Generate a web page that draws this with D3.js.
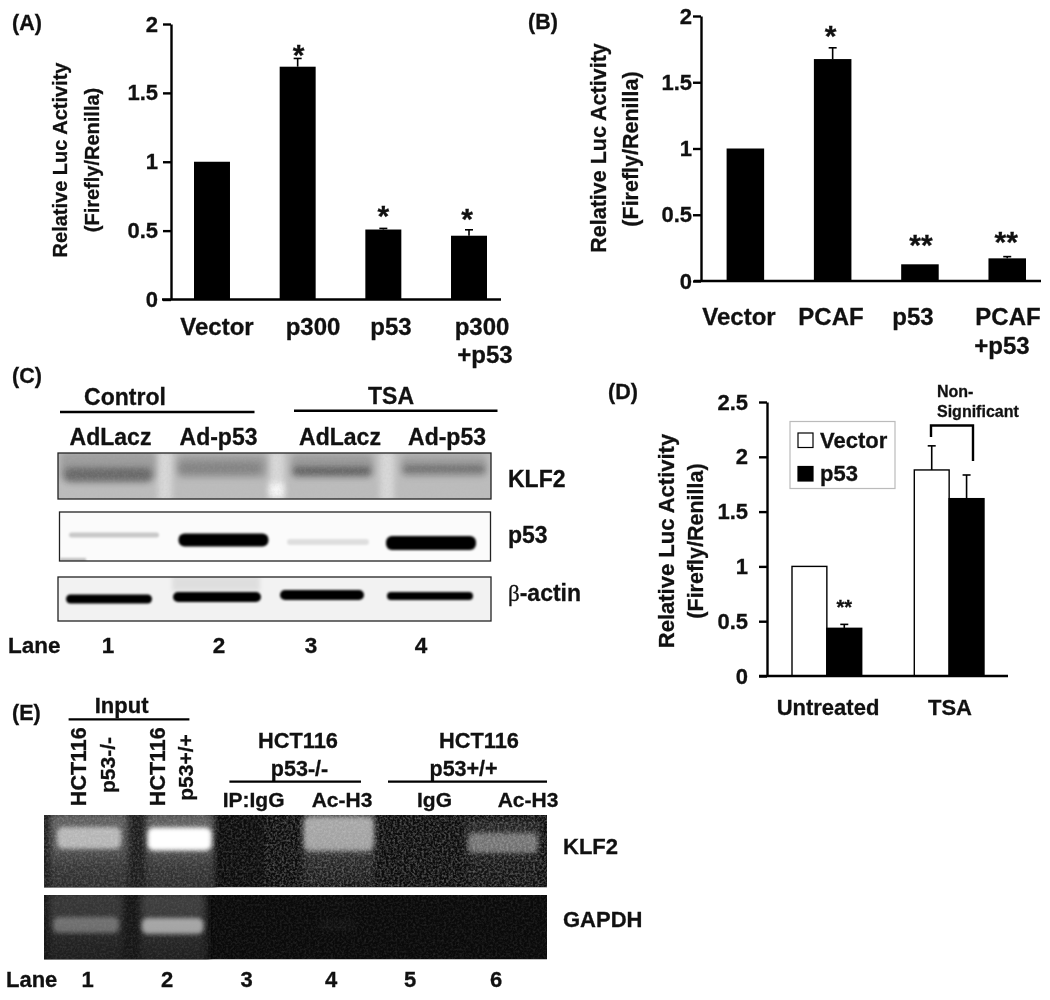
<!DOCTYPE html>
<html>
<head>
<meta charset="utf-8">
<script src="https://cdn.jsdelivr.net/npm/d3@7"></script>
<style>
  html, body { margin: 0; padding: 0; background: #fff; }
  svg { display: block; filter: blur(0.5px); }
  text { font-family: "Liberation Sans", Arial, sans-serif; font-weight: bold; fill: #111; stroke: #111; stroke-width: 0.3px; }
</style>
</head>
<body>
<div id="chart"></div>
<script>
// panel A
var catsA = ["Vector", "p300", "p53", "p300+p53"];
var valsA = [1, 1.69, 0.508, 0.463];
var errA = [1, 1.75, 0.516, 0.506];
var starsA = ["", "*", "*", "*"];
var ticksAB = [0, 0.5, 1, 1.5, 2];

// panel B
var catsB = ["Vector", "PCAF", "p53", "PCAF+p53"];
var valsB = [1, 1.675, 0.126, 0.171];
var errB = [1, 1.76, 0.126, 0.184];
var starsB = ["", "*", "**", "**"];

// panel D
var groupsD = ["Untreated", "TSA"];
var seriesD = ["Vector", "p53"];
var vectorD = [1, 1.88];
var p53D = [0.435, 1.618];
var vectorErrD = [1, 2.1];
var p53ErrD = [0.471, 1.834];
var ticksD = [0, 0.5, 1, 1.5, 2, 2.5];

// blots: how dark each lane looks (panel C), how bright (panel E)
var lanesC = [1, 2, 3, 4];
var klf2Smear = [0.22, 0.22, 0.24, 0.2];
var klf2Western = [0.42, 0.2, 0.5, 0.42];
var p53Western = [0.2, 1, 0.11, 1];
var actinWestern = [1, 1, 1, 1];
var lanesE = [1, 2, 3, 4, 5, 6];
var klf2GelSmear = [0.85, 0.85, 0, 0.8, 0, 0.3];
var klf2Gel = [0.56, 1, 0, 0.5, 0, 0.36];
var gapdhGelSmear = [0.42, 0.5, 0, 0.03, 0, 0];
var gapdhGel = [0.3, 0.56, 0, 0.02, 0, 0];

var svg = d3.select("#chart").append("svg")
    .attr("width", 1050)
    .attr("height", 1000);

var defs = svg.append("defs");
[1, 2, 3, 4, 6].forEach(function(s) {
    defs.append("filter")
        .attr("id", "blur" + s)
        .attr("x", "-50%").attr("y", "-150%")
        .attr("width", "200%").attr("height", "400%")
        .append("feGaussianBlur")
        .attr("stdDeviation", s);
});
var noise = defs.append("filter").attr("id", "speckle");
noise.append("feTurbulence")
    .attr("type", "fractalNoise")
    .attr("baseFrequency", 0.45)
    .attr("numOctaves", 2)
    .attr("seed", 4);
noise.append("feColorMatrix")
    .attr("type", "matrix")
    .attr("values", "0 0 0 0 0.45  0 0 0 0 0.45  0 0 0 0 0.45  1.6 0 0 0 -0.6");

var smearGrad = defs.append("linearGradient").attr("id", "smear")
    .attr("x1", 0).attr("x2", 0).attr("y1", 0).attr("y2", 1);
smearGrad.append("stop").attr("offset", "0%").attr("stop-color", "#fff").attr("stop-opacity", 0.36);
smearGrad.append("stop").attr("offset", "40%").attr("stop-color", "#fff").attr("stop-opacity", 0.3);
smearGrad.append("stop").attr("offset", "62%").attr("stop-color", "#fff").attr("stop-opacity", 0.15);
smearGrad.append("stop").attr("offset", "100%").attr("stop-color", "#fff").attr("stop-opacity", 0.06);

function label(g, str, x, y, size, anchor) {
    return g.append("text")
        .attr("x", x)
        .attr("y", y)
        .attr("font-size", size)
        .attr("text-anchor", anchor || "middle")
        .text(str);
}

function vlabel(g, str, x, cy, size) {
    return g.append("text")
        .attr("transform", "translate(" + x + "," + cy + ") rotate(-90)")
        .attr("font-size", size)
        .attr("text-anchor", "middle")
        .text(str);
}

function drawAxis(g, y, ticks, xAxis, tickPad, baseLeft, baseRight, fontSize) {
    var ax = g.append("g")
        .attr("transform", "translate(" + xAxis + ",0)")
        .call(d3.axisLeft(y).tickValues(ticks).tickSize(8).tickSizeOuter(0).tickPadding(tickPad)
            .tickFormat(function(d) { return d; }));
    ax.selectAll("path, line").attr("stroke", "#000").attr("stroke-width", 2.4);
    ax.selectAll("text").attr("font-size", fontSize).attr("font-family", null).attr("fill", "#111");
    g.append("line")
        .attr("x1", baseLeft)
        .attr("x2", baseRight)
        .attr("y1", y(0))
        .attr("y2", y(0))
        .attr("stroke", "#000")
        .attr("stroke-width", 2.4);
}

function errorBars(g, x, y, cats, vals, errs, capHalf) {
    cats.forEach(function(c, i) {
        if (errs[i] <= vals[i]) return;
        var cx = x(c) + x.bandwidth() / 2;
        g.append("line").attr("x1", cx).attr("x2", cx)
            .attr("y1", y(vals[i])).attr("y2", y(errs[i]))
            .attr("stroke", "#000").attr("stroke-width", 1.6);
        g.append("line").attr("x1", cx - capHalf).attr("x2", cx + capHalf)
            .attr("y1", y(errs[i])).attr("y2", y(errs[i]))
            .attr("stroke", "#000").attr("stroke-width", 1.6);
    });
}

function barPanel(opt) {
    var g = svg.append("g");
    var y = d3.scaleLinear().domain([0, 2]).range(opt.yRange);
    var x = d3.scaleBand().domain(opt.cats).range(opt.xRange).paddingInner(opt.pad).paddingOuter(0);

    g.selectAll("rect.bar")
        .data(opt.cats)
        .enter().append("rect")
        .attr("class", "bar")
        .attr("x", function(d) { return x(d); })
        .attr("y", function(d, i) { return y(opt.vals[i]); })
        .attr("width", x.bandwidth())
        .attr("height", function(d, i) { return y(0) - y(opt.vals[i]); })
        .attr("fill", "#000");

    errorBars(g, x, y, opt.cats, opt.vals, opt.errs, 4);
    drawAxis(g, y, ticksAB, opt.axisX, opt.tickPad, opt.base[0], opt.base[1], 22);

    opt.stars.forEach(function(s, i) {
        if (!s) return;
        var cx = x(opt.cats[i]) + x.bandwidth() / 2 + opt.starDx[i];
        label(g, s, cx, y(opt.errs[i]) - opt.starGap[i] + 11, 30);
    });
    return g;
}

// ---------- (A)
var gA = barPanel({
    cats: catsA, vals: valsA, errs: errA, stars: starsA,
    yRange: [299.5, 24], xRange: [194, 487], pad: 0.58,
    axisX: 171, tickPad: 5, base: [162, 501],
    starDx: [0, 1, 0, -2], starGap: [0, 4, 13, 12]
});
label(gA, "(A)", 12, 30, 21.5, "start");
vlabel(gA, "Relative Luc Activity", 67, 160, 20);
vlabel(gA, "(Firefly/Renilla)", 99, 160, 20);
label(gA, "Vector", 217, 335, 24);
label(gA, "p300", 313, 335, 24);
label(gA, "p53", 391, 335, 24);
label(gA, "p300", 482, 335, 24);
label(gA, "+p53", 485, 363, 24);

// ---------- (B)
var gB = barPanel({
    cats: catsB, vals: valsB, errs: errB, stars: starsB,
    yRange: [281, 16], xRange: [726.6, 1026], pad: 0.57,
    axisX: 701, tickPad: 1, base: [694, 1041],
    starDx: [0, -2, 1, -1], starGap: [0, 13, 20, 16]
});
label(gB, "(B)", 528, 29, 21.5, "start");
vlabel(gB, "Relative Luc Activity", 606, 148, 21.5);
vlabel(gB, "(Firefly/Renilla)", 638, 149, 21.5);
label(gB, "Vector", 739, 325, 24);
label(gB, "PCAF", 831, 325, 24);
label(gB, "p53", 913, 325, 24);
label(gB, "PCAF", 1008, 325, 24);
label(gB, "+p53", 1002, 354, 24);

// ---------- (D)
var gD = svg.append("g");
var yD = d3.scaleLinear().domain([0, 2.5]).range([676, 402]);
var xD = d3.scaleBand().domain(groupsD).range([792, 984]).paddingInner(0.43).paddingOuter(0);
var xSub = d3.scaleBand().domain(seriesD).range([0, xD.bandwidth()]);

seriesD.forEach(function(s, k) {
    var vals = k == 0 ? vectorD : p53D;
    var errs = k == 0 ? vectorErrD : p53ErrD;
    var subG = gD.append("g").attr("class", "series");
    subG.selectAll("rect")
        .data(groupsD)
        .enter().append("rect")
        .attr("x", function(d) { return xD(d) + xSub(s); })
        .attr("y", function(d, i) { return yD(vals[i]); })
        .attr("width", xSub.bandwidth())
        .attr("height", function(d, i) { return yD(0) - yD(vals[i]); })
        .attr("fill", k == 0 ? "#fff" : "#000")
        .attr("stroke", "#000")
        .attr("stroke-width", 1.4);
    groupsD.forEach(function(gr, i) {
        if (errs[i] <= vals[i]) return;
        var cx = xD(gr) + xSub(s) + xSub.bandwidth() / 2;
        subG.append("line").attr("x1", cx).attr("x2", cx)
            .attr("y1", yD(vals[i])).attr("y2", yD(errs[i]))
            .attr("stroke", "#000").attr("stroke-width", 1.6);
        subG.append("line").attr("x1", cx - 4).attr("x2", cx + 4)
            .attr("y1", yD(errs[i])).attr("y2", yD(errs[i]))
            .attr("stroke", "#000").attr("stroke-width", 1.6);
    });
});
drawAxis(gD, yD, ticksD, 767, 11, 759, 1008, 22);
label(gD, "(D)", 608, 399, 21.5, "start");
vlabel(gD, "Relative Luc Activity", 674, 541, 22);
vlabel(gD, "(Firefly/Renilla)", 703, 541, 21.5);
label(gD, "Untreated", 828, 715, 22);
label(gD, "TSA", 950, 715, 22);
label(gD, "**", xD("Untreated") + xSub("p53") + xSub.bandwidth() / 2, yD(p53ErrD[0]) - 10, 20);

// legend
gD.append("rect").attr("x", 790).attr("y", 421.5).attr("width", 105).attr("height", 67)
    .attr("fill", "#fff").attr("stroke", "#bbb").attr("stroke-width", 1.2);
gD.append("rect").attr("x", 798).attr("y", 433).attr("width", 15).attr("height", 14.5)
    .attr("fill", "#fff").attr("stroke", "#000").attr("stroke-width", 1.2);
gD.append("rect").attr("x", 798).attr("y", 466.5).attr("width", 15).attr("height", 14.5)
    .attr("fill", "#000").attr("stroke", "#000").attr("stroke-width", 1.2);
label(gD, seriesD[0], 820, 448, 22, "start");
label(gD, seriesD[1], 820, 481, 22, "start");

// bracket
gD.append("path")
    .attr("d", d3.line()([[931, 437], [931, 425.5], [973, 425.5], [973, 461]]))
    .attr("fill", "none").attr("stroke", "#000").attr("stroke-width", 2.4);
label(gD, "Non-", 937, 397, 16, "start");
label(gD, "Significant", 937, 417, 16, "start");

// ---------- blot helpers
function blotFrame(g, id, x0, y0, w, h, bg) {
    defs.append("clipPath").attr("id", id)
        .append("rect").attr("x", x0).attr("y", y0).attr("width", w).attr("height", h);
    var b = g.append("g").attr("clip-path", "url(#" + id + ")");
    b.append("rect").attr("x", x0).attr("y", y0).attr("width", w).attr("height", h).attr("fill", bg);
    return b;
}

function bands(b, lanes, scale, levels, dx, cy, w, h, blur, color) {
    b.append("g").selectAll("rect")
        .data(lanes)
        .enter().append("rect")
        .attr("x", function(d, i) { return scale(d) + dx[i] - w[i] / 2; })
        .attr("y", function(d, i) { return cy[i] - h[i] / 2; })
        .attr("width", function(d, i) { return w[i]; })
        .attr("height", function(d, i) { return h[i]; })
        .attr("rx", function(d, i) { return Math.min(h[i] / 2, 6); })
        .attr("fill", color)
        .attr("opacity", function(d, i) { return levels[i]; })
        .attr("filter", "url(#blur" + blur + ")");
}

function speckle(b, x0, y0, w, h, op) {
    b.append("rect").attr("x", x0).attr("y", y0).attr("width", w).attr("height", h)
        .attr("filter", "url(#speckle)").attr("opacity", op);
}

function frameLine(g, x0, y0, w, h) {
    g.append("rect").attr("x", x0).attr("y", y0).attr("width", w).attr("height", h)
        .attr("fill", "none").attr("stroke", "#222").attr("stroke-width", 1.3);
}

// ---------- (C)
var gC = svg.append("g");
var laneC = d3.scaleLinear().domain([1, 4]).range([110, 440]);

label(gC, "(C)", 12, 383, 21.5, "start");
label(gC, "Control", 125, 405, 23);
label(gC, "TSA", 391, 404, 23);
gC.append("line").attr("x1", 60).attr("x2", 254.5).attr("y1", 412).attr("y2", 412)
    .attr("stroke", "#000").attr("stroke-width", 2.6);
gC.append("line").attr("x1", 294).attr("x2", 497.5).attr("y1", 410.7).attr("y2", 410.7)
    .attr("stroke", "#000").attr("stroke-width", 2.6);
label(gC, "AdLacz", 110.5, 445, 23);
label(gC, "Ad-p53", 218.5, 445, 23);
label(gC, "AdLacz", 340, 445, 23);
label(gC, "Ad-p53", 447, 445, 23);

var blot1 = blotFrame(gC, "clipK", 58, 453, 433, 46, "#bcbcbc");
[165, 277, 387].forEach(function(sx) {
    blot1.append("rect").attr("x", sx - 7).attr("y", 450).attr("width", 14).attr("height", 52)
        .attr("fill", "#e2e2e2").attr("opacity", 0.75).attr("filter", "url(#blur3)");
});
blot1.append("rect").attr("x", 269).attr("y", 483).attr("width", 15).attr("height", 14)
    .attr("fill", "#fff").attr("opacity", 0.8).attr("filter", "url(#blur3)");
bands(blot1, lanesC, laneC, klf2Smear, [-2, 2, 2, 4], [466, 466, 466, 466], [96, 90, 82, 86], [28, 24, 24, 22], 3, "#333");
bands(blot1, lanesC, laneC, klf2Western, [-2, 0, 2, 4], [475, 468, 471, 469], [88, 84, 78, 82], [15, 12, 8, 7], 3, "#222");
speckle(blot1, 58, 453, 433, 46, 0.22);
frameLine(gC, 58, 453, 433, 46);

var blot2 = blotFrame(gC, "clipP", 59.5, 512, 431, 49, "#fbfbfb");
bands(blot2, lanesC, laneC, p53Western, [4, 3.5, -2, -9], [535, 540, 542, 543], [90, 90, 82, 90], [5, 13, 6, 14], 1, "#000");
blot2.append("rect").attr("x", 60).attr("y", 558).attr("width", 26).attr("height", 4)
    .attr("fill", "#999").attr("opacity", 0.6).attr("filter", "url(#blur1)");
frameLine(gC, 59.5, 512, 431, 49);

var blot3 = blotFrame(gC, "clipA", 58, 577, 433, 44, "#f2f2f2");
blot3.append("rect").attr("x", 172).attr("y", 576).attr("width", 88).attr("height", 15)
    .attr("fill", "#bbb").attr("opacity", 0.35).attr("filter", "url(#blur2)");
bands(blot3, lanesC, laneC, actinWestern, [-1, -3, -8, -10], [599, 597, 595, 596], [86, 88, 84, 86], [9, 10, 10, 8], 1, "#000");
frameLine(gC, 58, 577, 433, 44);

label(gC, "KLF2", 508, 487, 23, "start");
label(gC, "p53", 508, 543, 23, "start");
var beta = label(gC, "", 508, 600.5, 23, "start");
beta.append("tspan").attr("font-family", "Liberation Serif").attr("font-weight", "normal").text("β");
beta.append("tspan").text("-actin");

label(gC, "Lane", 8, 653, 22.5, "start");
lanesC.forEach(function(l, i) {
    label(gC, l, [108, 219, 311, 421][i], 653, 22.5);
});

// ---------- (E)
var gE = svg.append("g");
var laneE = d3.scaleLinear().domain([1, 6]).range([90, 503]);

label(gE, "(E)", 12, 720, 21.5, "start");
label(gE, "Input", 121.6, 712.5, 22);
gE.append("line").attr("x1", 68.6).attr("x2", 189.4).attr("y1", 719.3).attr("y2", 719.3)
    .attr("stroke", "#000").attr("stroke-width", 2.2);
vlabel(gE, "HCT116", 86, 766.7, 21.5);
vlabel(gE, "p53-/-", 115, 765, 21);
vlabel(gE, "HCT116", 165, 766.7, 21.5);
vlabel(gE, "p53+/+", 193, 767.5, 21);

label(gE, "HCT116", 298, 748, 21.8);
label(gE, "p53-/-", 299.5, 776, 21.5);
label(gE, "HCT116", 479, 748, 21.8);
label(gE, "p53+/+", 463.6, 776, 21.5);
gE.append("line").attr("x1", 229.4).attr("x2", 361).attr("y1", 781.7).attr("y2", 781.7)
    .attr("stroke", "#000").attr("stroke-width", 2.2);
gE.append("line").attr("x1", 388).attr("x2", 547).attr("y1", 781.7).attr("y2", 781.7)
    .attr("stroke", "#000").attr("stroke-width", 2.2);
label(gE, "IP:IgG", 253.6, 807, 21);
label(gE, "Ac-H3", 342, 807, 21);
label(gE, "IgG", 434.5, 807, 21);
label(gE, "Ac-H3", 528, 807, 21);

var gelDx = [-1, 7, 0, 1, 0, 0];
var gel1 = blotFrame(gE, "clipG1", 44, 815, 503, 72.5, "#0c0c0c");
gel1.append("rect").attr("x", 40).attr("y", 812).attr("width", 176).attr("height", 78)
    .attr("fill", "#1b1b1b").attr("filter", "url(#blur2)");
speckle(gel1, 44, 815, 503, 72.5, 0.4);
bands(gel1, lanesE, laneE, klf2GelSmear, gelDx, [855, 855, 855, 850, 855, 855], [78, 68, 0, 72, 0, 76], [84, 84, 0, 76, 0, 70], 3, "url(#smear)");
bands(gel1, lanesE, laneE, klf2Gel, gelDx, [838, 839, 838, 834, 838, 843], [64, 64, 0, 70, 0, 70], [22, 23, 0, 34, 0, 20], 2, "#fff");
speckle(gel1, 290, 815, 257, 72.5, 0.3);

var gel2 = blotFrame(gE, "clipG2", 44, 895, 503, 64.5, "#0a0a0a");
gel2.append("rect").attr("x", 40).attr("y", 892).attr("width", 170).attr("height", 70)
    .attr("fill", "#161616").attr("filter", "url(#blur2)");
bands(gel2, lanesE, laneE, gapdhGelSmear, [-4, 0, 0, 0, 0, 0], [930, 930, 930, 930, 930, 930], [74, 64, 0, 40, 0, 0], [74, 74, 0, 70, 0, 0], 3, "url(#smear)");
bands(gel2, lanesE, laneE, gapdhGel, [-4, 0, 0, 0, 0, 0], [925, 926, 925, 925, 925, 925], [66, 62, 0, 40, 0, 0], [16, 16, 0, 12, 0, 0], 2, "#fff");
speckle(gel2, 44, 895, 503, 64.5, 0.2);

label(gE, "KLF2", 563, 854, 22, "start");
label(gE, "GAPDH", 563, 927, 22, "start");
label(gE, "Lane", 6, 987, 22, "start");
lanesE.forEach(function(l, i) {
    label(gE, l, [87.5, 167, 246.6, 331, 410, 496][i], 987, 22);
});
</script>
</body>
</html>
